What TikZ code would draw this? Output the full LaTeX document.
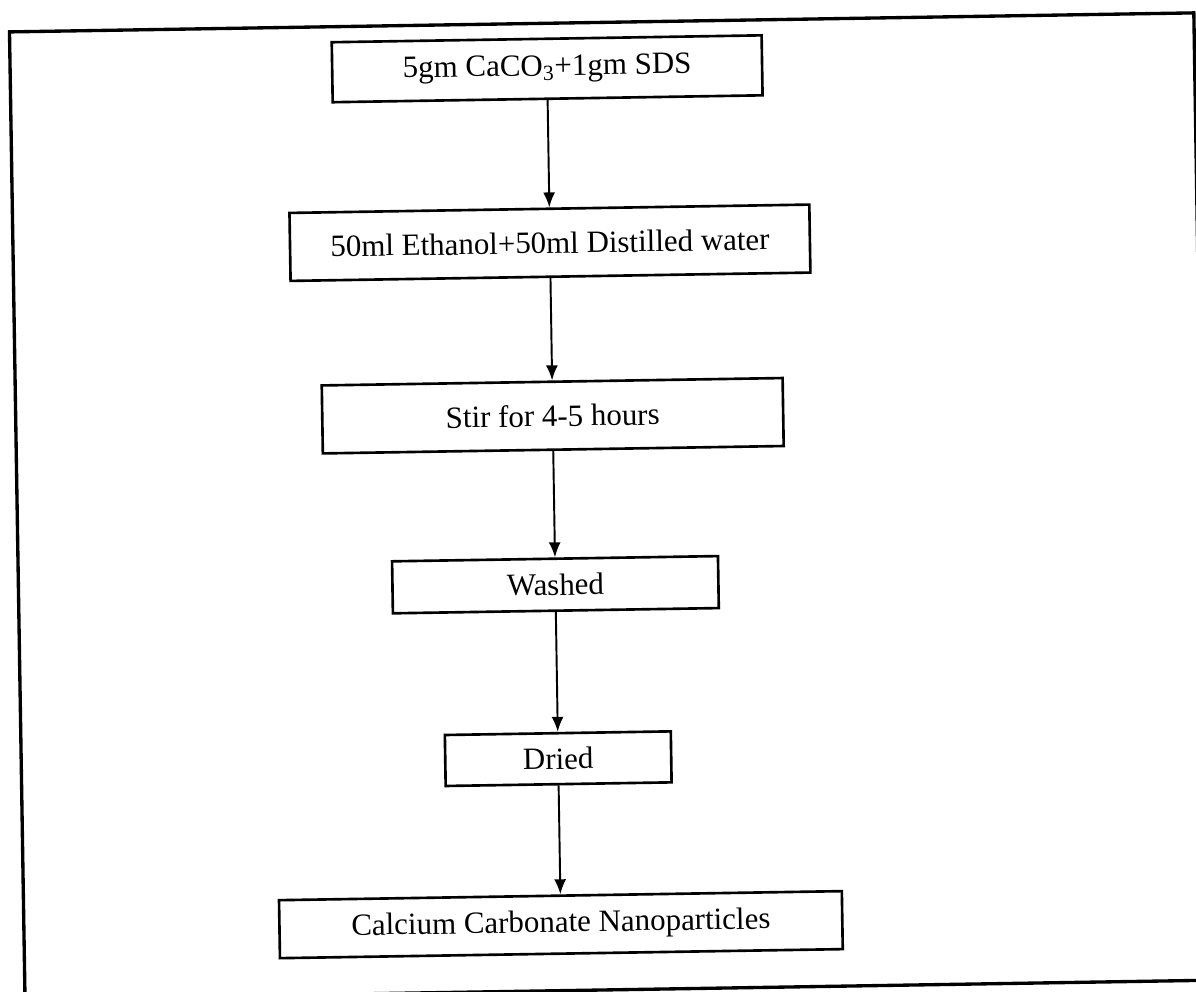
\documentclass[tikz,border=0pt]{standalone}
\usepackage{fontspec}
\setmainfont{Liberation Serif}
\usetikzlibrary{arrows.meta}
\begin{document}
\begin{tikzpicture}[x=0.02cm, y=-0.02cm,
  stepbox/.style={draw=black, line width=1.5pt, inner sep=0pt, align=center,
    font=\fontsize{17.6}{21}\selectfont},
  flow/.style={draw=black, line width=1.1pt,
    -{Latex[length=0.3cm, width=0.24cm]}},
  outer/.style={draw=black, line width=1.9pt}]

  % page area, in pixel units
  \path[use as bounding box, clip] (0,0) rectangle (1196,991);
  \fill[white] (0,0) rectangle (1196,991);

  % the whole sheet sits slightly tilted
  \begin{scope}[rotate around={0.92:(598,495.5)}, transform shape]
    \draw[outer] (17,22.5) rectangle (1201.5,990);

    \node[stepbox, minimum width=8.6cm,  minimum height=1.2cm]  (n1) at (554,68)
      {5gm CaCO\textsubscript{3}+1gm SDS};
    \node[stepbox, minimum width=10.4cm, minimum height=1.36cm] (n2) at (554,242)
      {50ml Ethanol+50ml Distilled water};
    \node[stepbox, minimum width=9.22cm, minimum height=1.36cm] (n3) at (554,415)
      {Stir for 4-5 hours};
    \node[stepbox, minimum width=6.52cm, minimum height=1.04cm] (n4) at (554,584)
      {Washed};
    \node[stepbox, minimum width=4.52cm, minimum height=1.02cm] (n5) at (554,758)
      {Dried};
    \node[stepbox, minimum width=11.26cm, minimum height=1.16cm] (n6) at (554,924)
      {Calcium Carbonate Nanoparticles};

    \draw[flow] (n1) -- (n2);
    \draw[flow] (n2) -- (n3);
    \draw[flow] (n3) -- (n4);
    \draw[flow] (n4) -- (n5);
    \draw[flow] (n5) -- (n6);
  \end{scope}
\end{tikzpicture}
\end{document}
